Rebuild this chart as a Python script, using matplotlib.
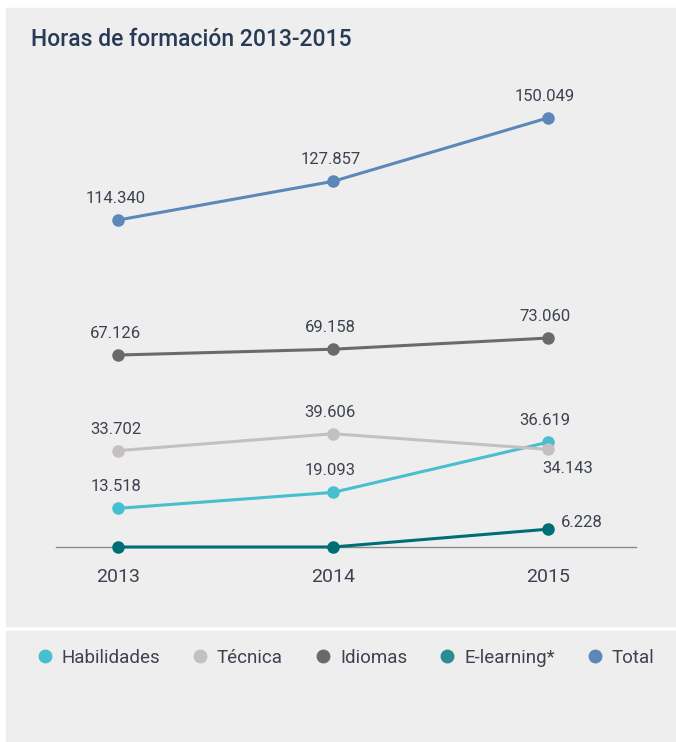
import matplotlib
matplotlib.use("Agg")
import matplotlib.pyplot as plt
from matplotlib.patches import Rectangle
from matplotlib.lines import Line2D

plt.rcParams['font.family'] = ['Roboto', 'DejaVu Sans']

years = [2013, 2014, 2015]
series = ['Habilidades', 'Técnica', 'Idiomas', 'E-learning*', 'Total']
habilidades = [13518, 19093, 36619]
tecnica = [33702, 39606, 34143]
idiomas = [67126, 69158, 73060]
elearning = [0, 0, 6228]
total = [114340, 127857, 150049]
values = [habilidades, tecnica, idiomas, elearning, total]

line_colors = ['#47bfce', '#c4c0c2', '#6b696c', '#006e74', '#5b88b8']
legend_colors = ['#47bfce', '#c4c0c2', '#6b696c', '#2a8d8f', '#5b88b8']

# label offsets (points) for each series / year
offsets = {
    1: {2: (14, -14)},
    3: {2: (24, 5)},
}
hidden = {3: [0, 1]}  # e-learning zeros are not labelled

W, H = 676, 742
fig = plt.figure(figsize=(W / 100, H / 100), dpi=100)
fig.patch.set_facecolor('white')

bg = '#eeeeee'
fig.patches.append(Rectangle((6 / W, 1 - 626 / H), 670 / W, 618 / H,
                             transform=fig.transFigure, color=bg, zorder=-5))
fig.patches.append(Rectangle((6 / W, 0), 670 / W, 111 / H,
                             transform=fig.transFigure, color=bg, zorder=-5))

ax = fig.add_axes([56 / W, 1 - 547 / H, 580 / W, 447 / H])
ax.set_facecolor('none')
ax.set_zorder(2)

txt = '#3d4250'
for i, name in enumerate(series):
    ax.plot(years, values[i], color=line_colors[i], lw=2.2, marker='o',
            ms=8, clip_on=False, zorder=3 + (i == 3))
    for j, y in enumerate(years):
        if j in hidden.get(i, []):
            continue
        dx, dy = offsets.get(i, {}).get(j, (-2, 15.5))
        lbl = f"{values[i][j]:,}".replace(',', '.')
        ax.annotate(lbl, (y, values[i][j]), xytext=(dx, dy),
                    textcoords='offset points', ha='center', va='center',
                    fontsize=12, color=txt)

ax.set_xlim(2012.71, 2015.41)
ax.set_ylim(0, 156300)
for s in ['top', 'right', 'left']:
    ax.spines[s].set_visible(False)
ax.spines['bottom'].set_color('#8a8a8a')
ax.spines['bottom'].set_linewidth(1)
ax.set_yticks([])
ax.set_xticks(years)
ax.set_xticklabels([str(y) for y in years])
ax.tick_params(axis='x', length=0, pad=15, labelsize=14, labelcolor=txt)

fig.text(31 / W, 1 - 40 / H, 'Horas de formación 2013-2015',
         fontsize=16.5, fontweight='medium', color='#283a55', va='center')

handles = [Line2D([], [], ls='none', marker='o', ms=9, color=c)
           for c in legend_colors]
fig.legend(handles, series, loc='center left',
           bbox_to_anchor=(37 / W, 1 - 658 / H), ncol=5, frameon=False,
           fontsize=13.5, labelcolor=txt, handlelength=0.8, borderpad=0,
           handletextpad=0.5, columnspacing=1.74, borderaxespad=0)

fig.savefig('out.png', dpi=100, facecolor='white')
